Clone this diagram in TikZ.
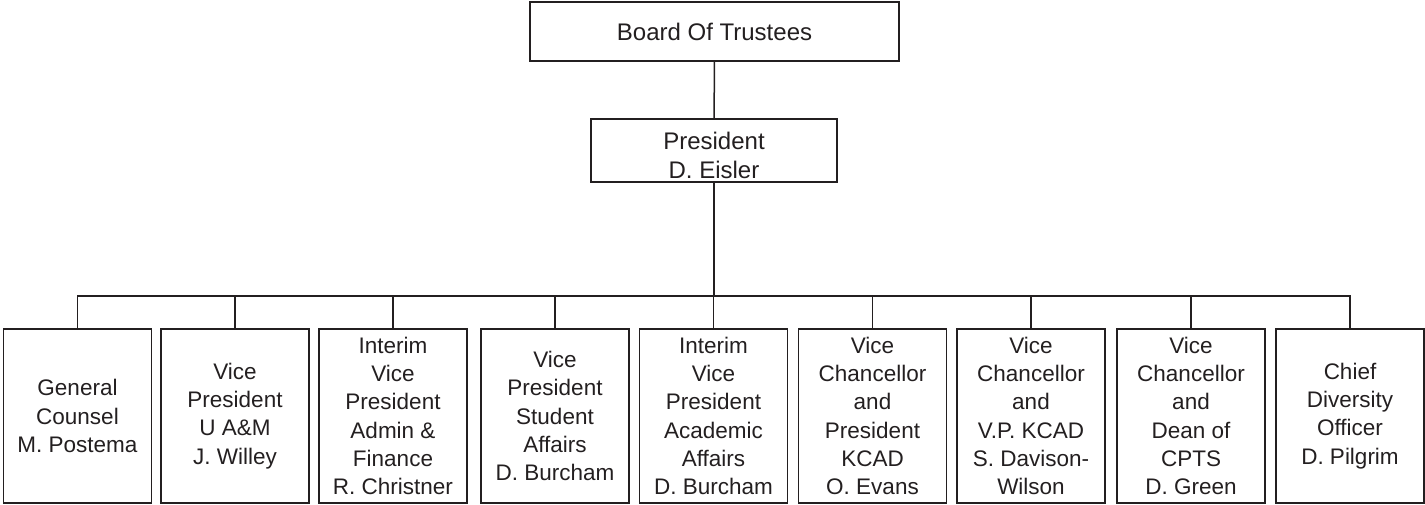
\documentclass[tikz,border=0pt]{standalone}
\usepackage{fontspec}
\setmainfont{Liberation Sans}
\usepackage{xcolor}
\usepackage{tikz}
\usetikzlibrary{positioning}
\definecolor{inkgray}{HTML}{231F20}
\tikzset{
  topbox/.style={draw=inkgray, line width=0.75pt, text=inkgray, align=center, inner sep=0pt, font=\fontsize{12}{14.15}\selectfont},
  unitbox/.style={draw=inkgray, line width=0.75pt, text=inkgray, align=center, inner sep=0pt, minimum width=74pt, minimum height=87pt, font=\fontsize{11.25}{14.1}\selectfont},
  link/.style={draw=inkgray, line width=0.75pt}
}
\begin{document}
\begin{tikzpicture}[x=0.5pt,y=-0.5pt]
  \useasboundingbox (0,0) rectangle (1425,504);
  % top of the chart
  \node[topbox, minimum width=184.5pt, minimum height=29.5pt] (board) at (714.5,31.5) {Board Of Trustees};
  \node[topbox, minimum width=123pt, minimum height=31.5pt] (pres) at (714,150.5) {\raisebox{-2.5pt}[\height][\depth]{President}\\\raisebox{-2.5pt}[\height][\depth]{D. Eisler}};
  \coordinate (bus) at (714,296);
  % offices reporting to the president
  \node[unitbox] (u1) at (77.5,416) {General\\Counsel\\M. Postema};
  \node[unitbox] (u2) at (235,416) {Vice\\President\\U A\&M\\J. Willey};
  \node[unitbox] (u3) at (393,416) {Interim\\Vice\\President\\Admin \&\\Finance\\R. Christner};
  \node[unitbox] (u4) at (555,416) {Vice\\President\\Student\\Affairs\\D. Burcham};
  \node[unitbox] (u5) at (713.5,416) {Interim\\Vice\\President\\Academic\\Affairs\\D. Burcham};
  \node[unitbox] (u6) at (872.5,416) {Vice\\Chancellor\\and\\President\\KCAD\\O. Evans};
  \node[unitbox] (u7) at (1031,416) {Vice\\Chancellor\\and\\V.P. KCAD\\S. Davison-\\Wilson};
  \node[unitbox] (u8) at (1191,416) {Vice\\Chancellor\\and\\Dean of\\CPTS\\D. Green};
  \node[unitbox] (u9) at (1350,416) {Chief\\Diversity\\Officer\\D. Pilgrim};
  % connectors
  \draw[link] (board) -- (pres);
  \draw[link] (pres) -- (bus);
  \foreach \i in {1,...,9}
    \draw[link] (bus) -| (u\i.north);
\end{tikzpicture}
\end{document}
